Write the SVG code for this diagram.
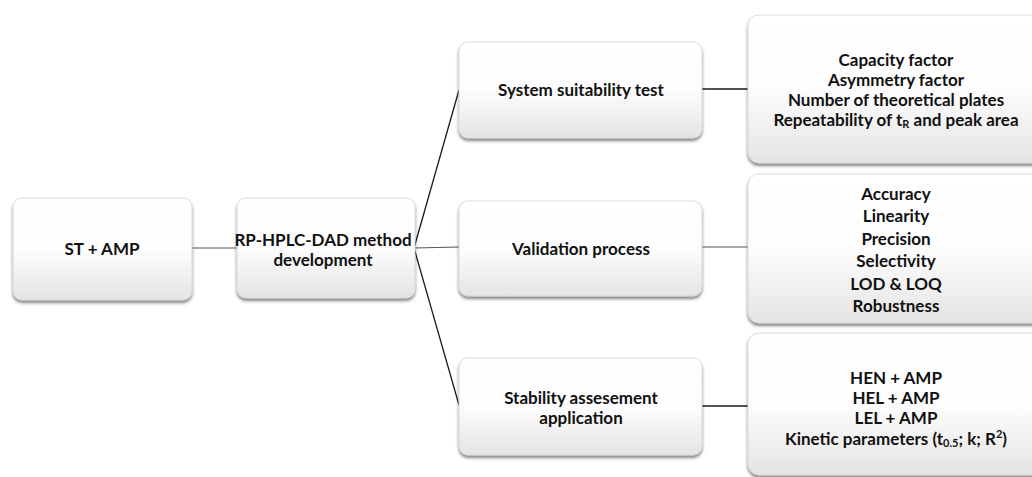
<svg xmlns="http://www.w3.org/2000/svg" width="1032" height="477" viewBox="0 0 1032 477">
<style>
.box{fill:url(#g);stroke:#d4d4d4;stroke-width:0.8;filter:url(#sh)}
.t{font-family:Lato,"Open Sans","Liberation Sans",sans-serif;font-weight:bold;font-size:17px;fill:#111;text-anchor:middle;dominant-baseline:central}
.c{stroke:#1a1a1a;stroke-width:1.3;fill:none}
.c2{stroke:#555;stroke-width:1;fill:none}
</style>
<defs>
<linearGradient id="g" x1="0" y1="0" x2="0" y2="1">
<stop offset="0" stop-color="#ffffff"/>
<stop offset="0.5" stop-color="#fdfdfd"/>
<stop offset="1" stop-color="#e4e4e4"/>
</linearGradient>
<filter id="sh" x="-10%" y="-10%" width="120%" height="130%">
<feDropShadow dx="0" dy="2.5" stdDeviation="1.5" flood-color="#000" flood-opacity="0.5"/>
</filter>
</defs>
<rect width="1032" height="477" fill="#ffffff"/>
<g id="connectors">
<line class="c2" x1="192" y1="248" x2="237" y2="248"/>
<line class="c" x1="414" y1="248" x2="459" y2="90"/>
<line class="c2" x1="414" y1="248" x2="459" y2="247"/>
<line class="c" x1="414" y1="248" x2="459" y2="405"/>
<line class="c" x1="702" y1="89" x2="748" y2="89"/>
<line class="c2" x1="702" y1="247" x2="748" y2="247"/>
<line class="c" x1="702" y1="406" x2="748" y2="406"/>
</g>
<g id="n1"><rect class="box" x="13" y="198" width="179" height="102" rx="9"/>
<text class="t" x="102" y="248">ST + AMP</text></g>
<g id="n2"><rect class="box" x="237" y="198" width="178" height="100" rx="9"/>
<text class="t" x="323" y="239" font-size="16.5">RP-HPLC-DAD method</text>
<text class="t" x="323" y="259" font-size="16.5">development</text></g>
<g id="n3"><rect class="box" x="459" y="42" width="243" height="96" rx="9"/>
<text class="t" x="581" y="89">System suitability test</text></g>
<g id="n4"><rect class="box" x="459" y="201" width="243" height="95" rx="9"/>
<text class="t" x="581" y="248">Validation process</text></g>
<g id="n5"><rect class="box" x="459" y="358" width="243" height="97" rx="9"/>
<text class="t" x="581" y="397">Stability assesement</text>
<text class="t" x="581" y="417">application</text></g>
<g id="n6"><rect class="box" x="748" y="15" width="300" height="148" rx="11"/>
<text class="t" x="896" y="59">Capacity factor</text>
<text class="t" x="896" y="79">Asymmetry factor</text>
<text class="t" x="896" y="99">Number of theoretical plates</text>
<text class="t" x="896" y="119">Repeatability of t<tspan font-size="11" dy="4">R</tspan><tspan dy="-4"> and peak area</tspan></text></g>
<g id="n7"><rect class="box" x="748" y="174" width="300" height="149" rx="11"/>
<text class="t" x="896" y="193">Accuracy</text>
<text class="t" x="896" y="215">Linearity</text>
<text class="t" x="896" y="238">Precision</text>
<text class="t" x="896" y="260">Selectivity</text>
<text class="t" x="896" y="283">LOD &amp; LOQ</text>
<text class="t" x="896" y="305">Robustness</text></g>
<g id="n8"><rect class="box" x="748" y="333" width="300" height="142" rx="11"/>
<text class="t" x="896" y="377">HEN + AMP</text>
<text class="t" x="896" y="397">HEL + AMP</text>
<text class="t" x="896" y="417">LEL + AMP</text>
<text class="t" x="896" y="438">Kinetic parameters (t<tspan font-size="11" dy="4">0.5</tspan><tspan dy="-4">; k; R</tspan><tspan font-size="11" dy="-5">2</tspan><tspan dy="5">)</tspan></text></g>
</svg>
